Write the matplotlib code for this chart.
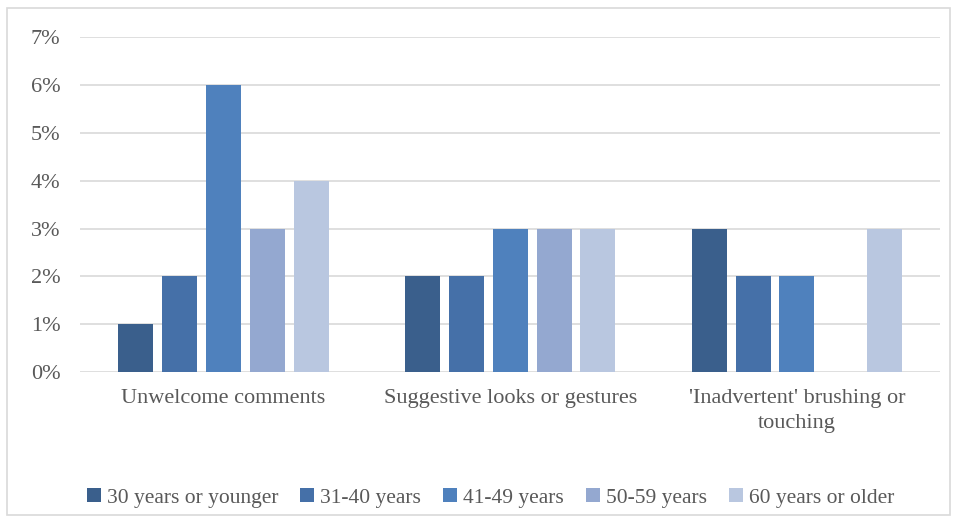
import numpy as np
import matplotlib.pyplot as plt
from matplotlib.patches import Rectangle

# Data
categories = ["Unwelcome comments", "Suggestive looks or gestures",
              "'Inadvertent' brushing or\ntouching"]
age_groups = ["30 years or younger", "31-40 years", "41-49 years",
              "50-59 years", "60 years or older"]
values = {
    "30 years or younger": [1, 2, 3],
    "31-40 years": [2, 2, 2],
    "41-49 years": [6, 3, 2],
    "50-59 years": [3, 3, 0],
    "60 years or older": [4, 3, 3],
}
colors = ["#3A5F8C", "#4570A8", "#4F81BD", "#94A8D0", "#B9C7E0"]

plt.rcParams['font.family'] = ['Liberation Serif', 'DejaVu Serif']

fig = plt.figure(figsize=(9.58, 5.24), dpi=100)
ax = fig.add_axes([0.0835, 0.290, 0.898, 0.639])

x = np.arange(len(categories))
step = 0.153
width = 0.122
for i, (grp, col) in enumerate(zip(age_groups, colors)):
    offs = (i - 2) * step
    ax.bar(x + offs, values[grp], width=width, color=col, label=grp, zorder=3)

ax.set_xlim(-0.5, 2.5)
ax.set_ylim(0, 7)
ax.set_yticks(range(0, 8))
ax.set_yticklabels([f"{v}%" for v in range(0, 8)])
ax.set_xticks(x)
ax.set_xticklabels(categories, linespacing=1.45)
ax.grid(axis='y', color='#D9D9D9', linewidth=1.2, zorder=0)
for s in ax.spines.values():
    s.set_visible(False)
ax.tick_params(axis='both', length=0, labelsize=16, colors='#595959')
ax.tick_params(axis='y', pad=14)
ax.tick_params(axis='x', pad=12)

fig.legend(loc='center', bbox_to_anchor=(0.512, 0.05), ncol=5, frameon=False,
           fontsize=15.5, labelcolor='#595959', handlelength=0.65, handleheight=0.65,
           handletextpad=0.3, columnspacing=1.0)

# outer chart border
fig.patches.append(Rectangle((0.007, 0.017), 0.985, 0.968, transform=fig.transFigure,
                             fill=False, edgecolor='#D9D9D9', linewidth=1.2))

fig.savefig("out.png", dpi=100)
